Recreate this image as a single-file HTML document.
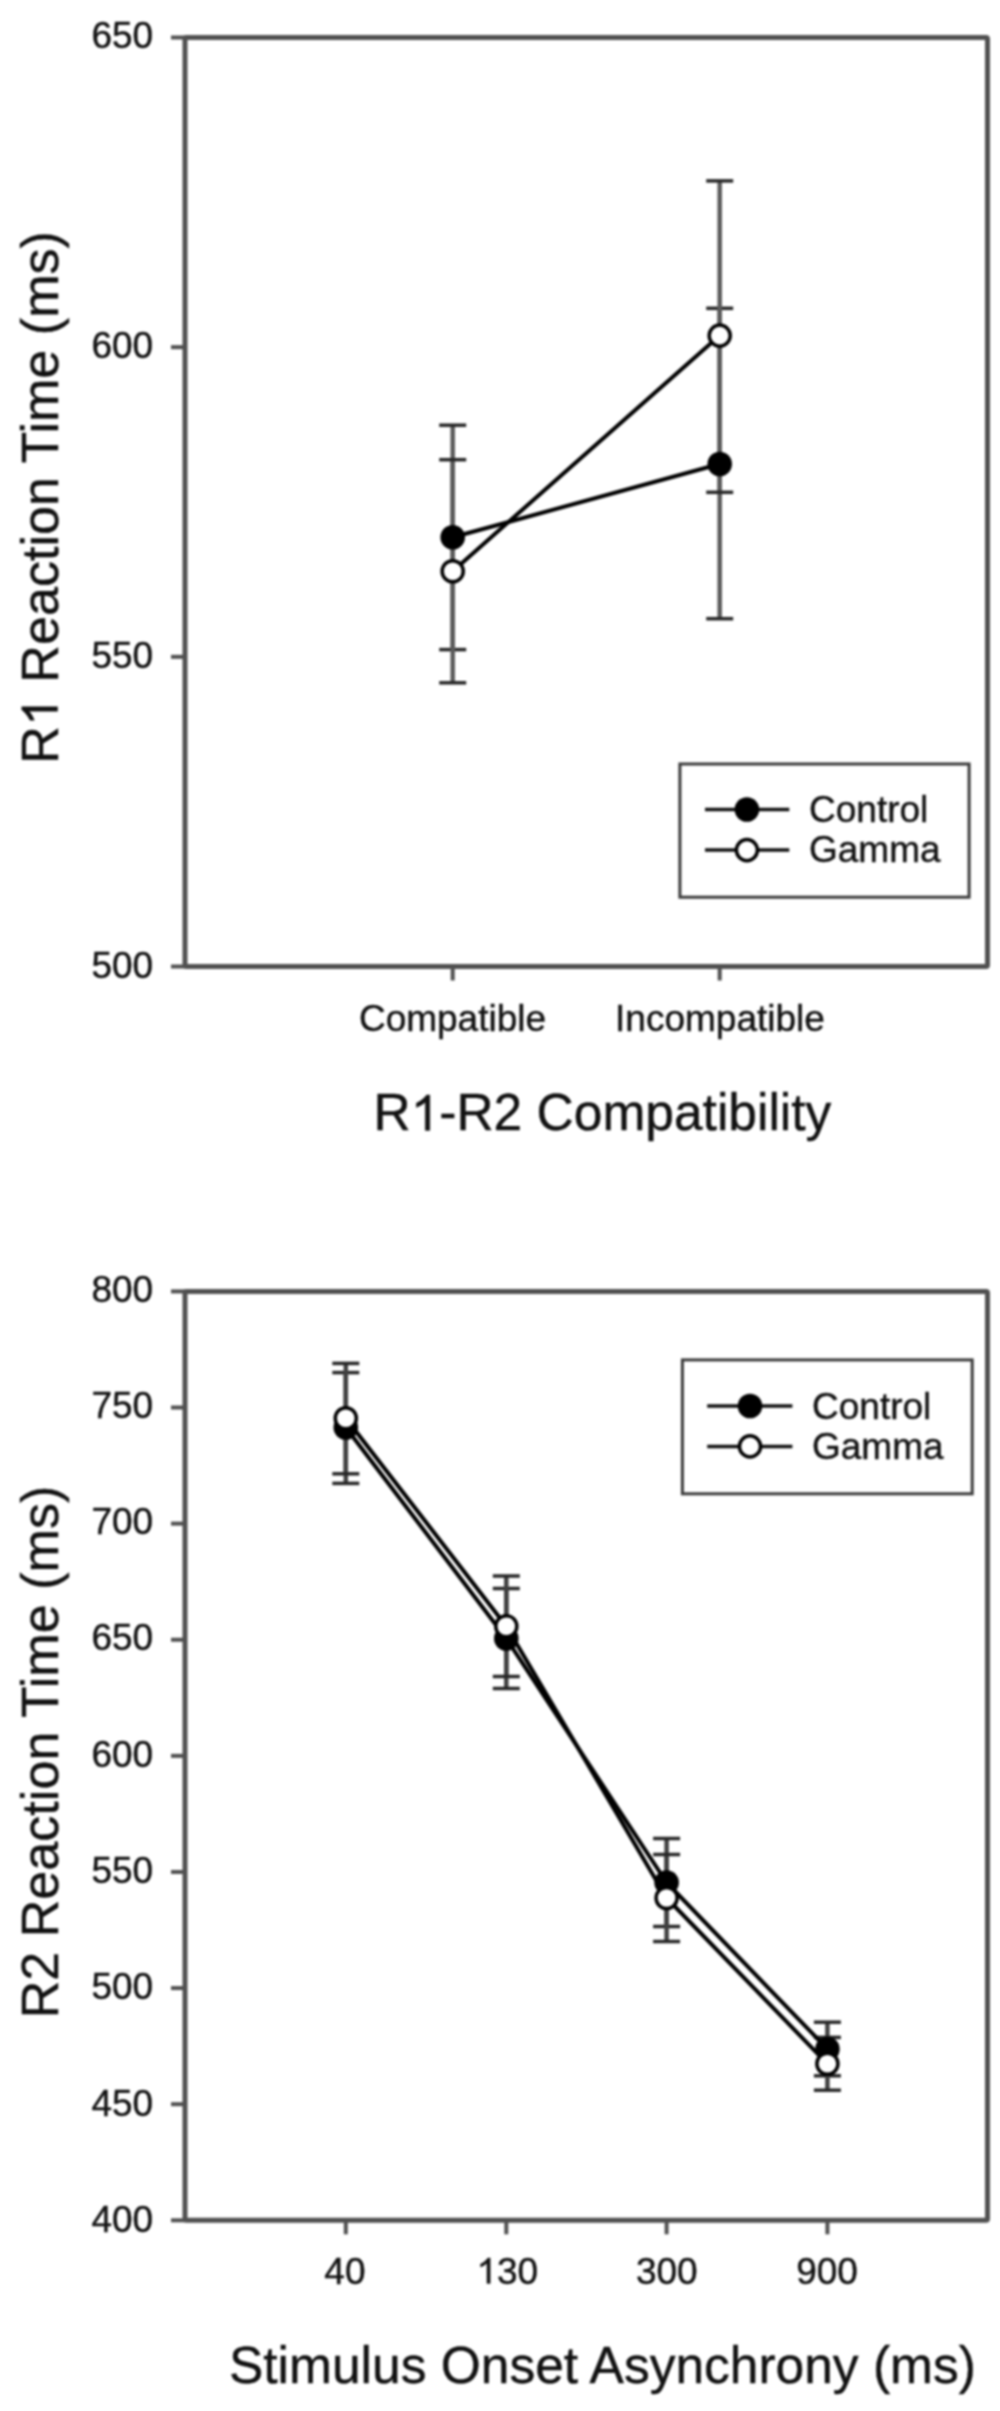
<!DOCTYPE html>
<html><head><meta charset="utf-8"><title>Reaction Time Charts</title>
<style>
html,body{margin:0;padding:0;background:#fff;}
body{width:1000px;height:2411px;overflow:hidden;}
svg{display:block;will-change:transform;filter:blur(1px);}
text{font-family:"Liberation Sans", sans-serif;fill:#111;stroke:#111;stroke-width:0.4px;}
</style></head>
<body>
<svg width="1000" height="2411" viewBox="0 0 1000 2411">

<rect width="1000" height="2411" fill="#fff"/>
<g>
<rect width="1000" height="2411" fill="#fff"/>
<rect x="185" y="37.5" width="802.5" height="929.0" fill="none" stroke="#505050" stroke-width="5" rx="1.5"/>
<line x1="171" y1="37.5" x2="185" y2="37.5" stroke="#505050" stroke-width="4" stroke-linecap="butt"/>
<text x="153.2" y="47.65" font-size="37" text-anchor="end">650</text>
<line x1="171" y1="347.1666666666667" x2="185" y2="347.1666666666667" stroke="#505050" stroke-width="4" stroke-linecap="butt"/>
<text x="153.2" y="357.78" font-size="37" text-anchor="end">600</text>
<line x1="171" y1="656.8333333333334" x2="185" y2="656.8333333333334" stroke="#505050" stroke-width="4" stroke-linecap="butt"/>
<text x="153.2" y="667.92" font-size="37" text-anchor="end">550</text>
<line x1="171" y1="966.5" x2="185" y2="966.5" stroke="#505050" stroke-width="4" stroke-linecap="butt"/>
<text x="153.2" y="978.05" font-size="37" text-anchor="end">500</text>
<line x1="452.7" y1="966.5" x2="452.7" y2="980.5" stroke="#505050" stroke-width="4" stroke-linecap="butt"/>
<line x1="719.7" y1="966.5" x2="719.7" y2="980.5" stroke="#505050" stroke-width="4" stroke-linecap="butt"/>
<text x="452.5" y="1030.5" font-size="37" text-anchor="middle">Compatible</text>
<text x="720" y="1030.5" font-size="37" text-anchor="middle">Incompatible</text>
<text x="602.4" y="1130.4" font-size="51.5" text-anchor="middle">R -R2 Compatibility</text><path d="M763,0 L583,0 L583,1120 C540,1080 484,1040 414,1000 C345,962 283,935 228,915 L228,1085 C326,1131 412,1187 486,1252 C555,1312 605,1365 632,1409 L763,1409 Z" transform="translate(410.63,1130.40) scale(0.02515,-0.02515)" fill="#111" stroke="#111" stroke-width="0.4" vector-effect="non-scaling-stroke"/>
<g transform="translate(57.6,497.4) rotate(-90)"><text x="0" y="0" font-size="52.1" text-anchor="middle">R  Reaction Time (ms)</text><path d="M763,0 L583,0 L583,1120 C540,1080 484,1040 414,1000 C345,962 283,935 228,915 L228,1085 C326,1131 412,1187 486,1252 C555,1312 605,1365 632,1409 L763,1409 Z" transform="translate(-228.71,0.00) scale(0.02544,-0.02544)" fill="#111" stroke="#111" stroke-width="0.4" vector-effect="non-scaling-stroke"/></g>
<line x1="452.7" y1="425.2" x2="452.7" y2="649.6" stroke="#5a5a5a" stroke-width="4.5" stroke-linecap="butt"/>
<line x1="439.2" y1="425.2" x2="466.2" y2="425.2" stroke="#262626" stroke-width="3.5" stroke-linecap="butt"/>
<line x1="439.2" y1="649.6" x2="466.2" y2="649.6" stroke="#262626" stroke-width="3.5" stroke-linecap="butt"/>
<line x1="452.7" y1="459.7" x2="452.7" y2="682.8" stroke="#5a5a5a" stroke-width="4.5" stroke-linecap="butt"/>
<line x1="439.2" y1="459.7" x2="466.2" y2="459.7" stroke="#262626" stroke-width="3.5" stroke-linecap="butt"/>
<line x1="439.2" y1="682.8" x2="466.2" y2="682.8" stroke="#262626" stroke-width="3.5" stroke-linecap="butt"/>
<line x1="719.7" y1="308.3" x2="719.7" y2="618.7" stroke="#5a5a5a" stroke-width="4.5" stroke-linecap="butt"/>
<line x1="706.2" y1="308.3" x2="733.2" y2="308.3" stroke="#262626" stroke-width="3.5" stroke-linecap="butt"/>
<line x1="706.2" y1="618.7" x2="733.2" y2="618.7" stroke="#262626" stroke-width="3.5" stroke-linecap="butt"/>
<line x1="719.7" y1="180.9" x2="719.7" y2="492.3" stroke="#5a5a5a" stroke-width="4.5" stroke-linecap="butt"/>
<line x1="706.2" y1="180.9" x2="733.2" y2="180.9" stroke="#262626" stroke-width="3.5" stroke-linecap="butt"/>
<line x1="706.2" y1="492.3" x2="733.2" y2="492.3" stroke="#262626" stroke-width="3.5" stroke-linecap="butt"/>
<line x1="452.7" y1="537.3" x2="719.7" y2="464.0" stroke="#000" stroke-width="4" stroke-linecap="butt"/>
<line x1="452.7" y1="571.2" x2="719.7" y2="335.6" stroke="#000" stroke-width="4" stroke-linecap="butt"/>
<circle cx="452.7" cy="537.3" r="12.3" fill="#000"/>
<circle cx="719.7" cy="464.0" r="12.3" fill="#000"/>
<circle cx="452.7" cy="571.2" r="10.55" fill="#fff" stroke="#000" stroke-width="3.5"/>
<circle cx="719.7" cy="335.6" r="10.55" fill="#fff" stroke="#000" stroke-width="3.5"/>
<rect x="679.9" y="764" width="289.20000000000005" height="133.20000000000005" fill="none" stroke="#3a3a3a" stroke-width="3"/>
<line x1="705" y1="809.5" x2="789.3" y2="809.5" stroke="#111" stroke-width="3.5" stroke-linecap="butt"/>
<circle cx="746.9" cy="809.5" r="12.3" fill="#000"/>
<line x1="705" y1="850.1" x2="789.3" y2="850.1" stroke="#111" stroke-width="3.5" stroke-linecap="butt"/>
<circle cx="746.9" cy="850.1" r="10.55" fill="#fff" stroke="#000" stroke-width="3.5"/>
<text x="809" y="822" font-size="37" text-anchor="start">Control</text>
<text x="809" y="862" font-size="37" text-anchor="start">Gamma</text>
<rect x="185" y="1291.4" width="802.5" height="928.9000000000001" fill="none" stroke="#505050" stroke-width="5" rx="1.5"/>
<line x1="171" y1="1291.4" x2="185" y2="1291.4" stroke="#505050" stroke-width="4" stroke-linecap="butt"/>
<text x="153.2" y="1301.55" font-size="37" text-anchor="end">800</text>
<line x1="171" y1="1407.5125" x2="185" y2="1407.5125" stroke="#505050" stroke-width="4" stroke-linecap="butt"/>
<text x="153.2" y="1417.84" font-size="37" text-anchor="end">750</text>
<line x1="171" y1="1523.625" x2="185" y2="1523.625" stroke="#505050" stroke-width="4" stroke-linecap="butt"/>
<text x="153.2" y="1534.12" font-size="37" text-anchor="end">700</text>
<line x1="171" y1="1639.7375000000002" x2="185" y2="1639.7375000000002" stroke="#505050" stroke-width="4" stroke-linecap="butt"/>
<text x="153.2" y="1650.41" font-size="37" text-anchor="end">650</text>
<line x1="171" y1="1755.8500000000001" x2="185" y2="1755.8500000000001" stroke="#505050" stroke-width="4" stroke-linecap="butt"/>
<text x="153.2" y="1766.7" font-size="37" text-anchor="end">600</text>
<line x1="171" y1="1871.9625" x2="185" y2="1871.9625" stroke="#505050" stroke-width="4" stroke-linecap="butt"/>
<text x="153.2" y="1882.99" font-size="37" text-anchor="end">550</text>
<line x1="171" y1="1988.075" x2="185" y2="1988.075" stroke="#505050" stroke-width="4" stroke-linecap="butt"/>
<text x="153.2" y="1999.27" font-size="37" text-anchor="end">500</text>
<line x1="171" y1="2104.1875" x2="185" y2="2104.1875" stroke="#505050" stroke-width="4" stroke-linecap="butt"/>
<text x="153.2" y="2115.56" font-size="37" text-anchor="end">450</text>
<line x1="171" y1="2220.3" x2="185" y2="2220.3" stroke="#505050" stroke-width="4" stroke-linecap="butt"/>
<text x="153.2" y="2231.85" font-size="37" text-anchor="end">400</text>
<line x1="345.8" y1="2220.3" x2="345.8" y2="2234.3" stroke="#505050" stroke-width="4" stroke-linecap="butt"/>
<line x1="506.3" y1="2220.3" x2="506.3" y2="2234.3" stroke="#505050" stroke-width="4" stroke-linecap="butt"/>
<line x1="666.6" y1="2220.3" x2="666.6" y2="2234.3" stroke="#505050" stroke-width="4" stroke-linecap="butt"/>
<line x1="827.4" y1="2220.3" x2="827.4" y2="2234.3" stroke="#505050" stroke-width="4" stroke-linecap="butt"/>
<text x="344.9" y="2283.5" font-size="37" text-anchor="middle">40</text>
<text x="507.3" y="2283.5" font-size="37" text-anchor="middle"> 30</text><path d="M763,0 L583,0 L583,1120 C540,1080 484,1040 414,1000 C345,962 283,935 228,915 L228,1085 C326,1131 412,1187 486,1252 C555,1312 605,1365 632,1409 L763,1409 Z" transform="translate(476.43,2283.50) scale(0.01807,-0.01807)" fill="#111" stroke="#111" stroke-width="0.4" vector-effect="non-scaling-stroke"/>
<text x="666.8" y="2283.5" font-size="37" text-anchor="middle">300</text>
<text x="827.1" y="2283.5" font-size="37" text-anchor="middle">900</text>
<text x="602.4" y="2383.2" font-size="51.5" text-anchor="middle">Stimulus Onset Asynchrony (ms)</text>
<g transform="translate(57.6,1752.0) rotate(-90)"><text x="0" y="0" font-size="52.1" text-anchor="middle">R2 Reaction Time (ms)</text></g>
<line x1="345.8" y1="1372.6" x2="345.8" y2="1483.4" stroke="#404040" stroke-width="4.5" stroke-linecap="butt"/>
<line x1="332.3" y1="1372.6" x2="359.3" y2="1372.6" stroke="#262626" stroke-width="3.5" stroke-linecap="butt"/>
<line x1="332.3" y1="1483.4" x2="359.3" y2="1483.4" stroke="#262626" stroke-width="3.5" stroke-linecap="butt"/>
<line x1="345.8" y1="1363.4" x2="345.8" y2="1473.8" stroke="#404040" stroke-width="4.5" stroke-linecap="butt"/>
<line x1="332.3" y1="1363.4" x2="359.3" y2="1363.4" stroke="#262626" stroke-width="3.5" stroke-linecap="butt"/>
<line x1="332.3" y1="1473.8" x2="359.3" y2="1473.8" stroke="#262626" stroke-width="3.5" stroke-linecap="butt"/>
<line x1="506.3" y1="1588.5" x2="506.3" y2="1688.5" stroke="#404040" stroke-width="4.5" stroke-linecap="butt"/>
<line x1="492.8" y1="1588.5" x2="519.8" y2="1588.5" stroke="#262626" stroke-width="3.5" stroke-linecap="butt"/>
<line x1="492.8" y1="1688.5" x2="519.8" y2="1688.5" stroke="#262626" stroke-width="3.5" stroke-linecap="butt"/>
<line x1="506.3" y1="1576" x2="506.3" y2="1676.5" stroke="#404040" stroke-width="4.5" stroke-linecap="butt"/>
<line x1="492.8" y1="1576" x2="519.8" y2="1576" stroke="#262626" stroke-width="3.5" stroke-linecap="butt"/>
<line x1="492.8" y1="1676.5" x2="519.8" y2="1676.5" stroke="#262626" stroke-width="3.5" stroke-linecap="butt"/>
<line x1="666.6" y1="1838.5" x2="666.6" y2="1926.5" stroke="#404040" stroke-width="4.5" stroke-linecap="butt"/>
<line x1="653.1" y1="1838.5" x2="680.1" y2="1838.5" stroke="#262626" stroke-width="3.5" stroke-linecap="butt"/>
<line x1="653.1" y1="1926.5" x2="680.1" y2="1926.5" stroke="#262626" stroke-width="3.5" stroke-linecap="butt"/>
<line x1="666.6" y1="1854.5" x2="666.6" y2="1941.5" stroke="#404040" stroke-width="4.5" stroke-linecap="butt"/>
<line x1="653.1" y1="1854.5" x2="680.1" y2="1854.5" stroke="#262626" stroke-width="3.5" stroke-linecap="butt"/>
<line x1="653.1" y1="1941.5" x2="680.1" y2="1941.5" stroke="#262626" stroke-width="3.5" stroke-linecap="butt"/>
<line x1="827.4" y1="2022.2" x2="827.4" y2="2075.8" stroke="#404040" stroke-width="4.5" stroke-linecap="butt"/>
<line x1="813.9" y1="2022.2" x2="840.9" y2="2022.2" stroke="#262626" stroke-width="3.5" stroke-linecap="butt"/>
<line x1="813.9" y1="2075.8" x2="840.9" y2="2075.8" stroke="#262626" stroke-width="3.5" stroke-linecap="butt"/>
<line x1="827.4" y1="2037.4" x2="827.4" y2="2090.2" stroke="#404040" stroke-width="4.5" stroke-linecap="butt"/>
<line x1="813.9" y1="2037.4" x2="840.9" y2="2037.4" stroke="#262626" stroke-width="3.5" stroke-linecap="butt"/>
<line x1="813.9" y1="2090.2" x2="840.9" y2="2090.2" stroke="#262626" stroke-width="3.5" stroke-linecap="butt"/>
<polyline points="345.8,1427.5 506.3,1638.5 666.6,1882.5 827.4,2049.0" fill="none" stroke="#000" stroke-width="4" stroke-linejoin="round"/>
<polyline points="345.8,1418.2 506.3,1626.2 666.6,1898.0 827.4,2063.8" fill="none" stroke="#000" stroke-width="4" stroke-linejoin="round"/>
<circle cx="345.8" cy="1427.5" r="12.3" fill="#000"/>
<circle cx="506.3" cy="1638.5" r="12.3" fill="#000"/>
<circle cx="666.6" cy="1882.5" r="12.3" fill="#000"/>
<circle cx="827.4" cy="2049.0" r="12.3" fill="#000"/>
<circle cx="345.8" cy="1418.2" r="10.55" fill="#fff" stroke="#000" stroke-width="3.5"/>
<circle cx="506.3" cy="1626.2" r="10.55" fill="#fff" stroke="#000" stroke-width="3.5"/>
<circle cx="666.6" cy="1898.0" r="10.55" fill="#fff" stroke="#000" stroke-width="3.5"/>
<circle cx="827.4" cy="2063.8" r="10.55" fill="#fff" stroke="#000" stroke-width="3.5"/>
<rect x="682.4" y="1359.9" width="289.80000000000007" height="133.89999999999986" fill="none" stroke="#3a3a3a" stroke-width="3"/>
<line x1="707.2" y1="1406" x2="792.4" y2="1406" stroke="#111" stroke-width="3.5" stroke-linecap="butt"/>
<circle cx="750" cy="1406" r="12.3" fill="#000"/>
<line x1="707.2" y1="1446.4" x2="792.4" y2="1446.4" stroke="#111" stroke-width="3.5" stroke-linecap="butt"/>
<circle cx="750" cy="1446.4" r="10.55" fill="#fff" stroke="#000" stroke-width="3.5"/>
<text x="812" y="1418.5" font-size="37" text-anchor="start">Control</text>
<text x="812" y="1458.5" font-size="37" text-anchor="start">Gamma</text>
</g>
</svg>
</body></html>
